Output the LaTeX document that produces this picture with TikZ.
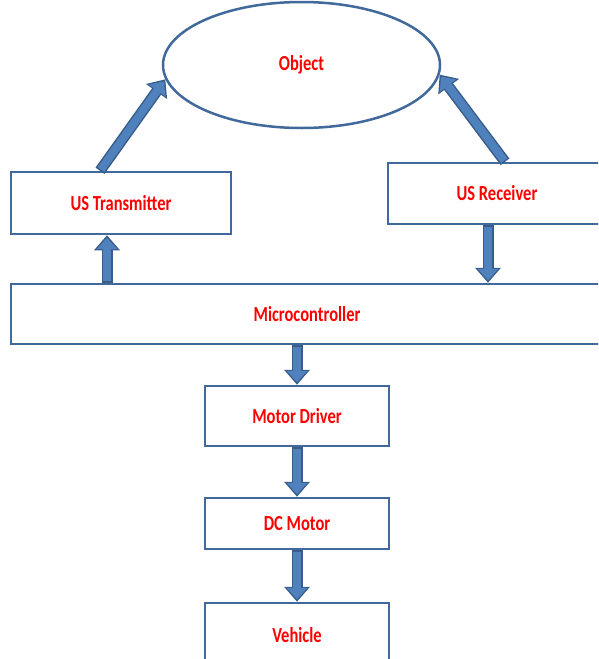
\documentclass[tikz,border=0pt]{standalone}
\usepackage{fontspec}
\setmainfont{Carlito}
\usetikzlibrary{arrows.meta,shapes.geometric}
\definecolor{boxline}{RGB}{65,105,155}
\definecolor{arrfill}{RGB}{79,129,189}
\definecolor{arrline}{RGB}{56,93,138}
\newcommand{\blabel}[1]{\scalebox{1}[1.3]{#1}}
\begin{document}
\begin{tikzpicture}[x=1pt,y=-1pt,
  blk/.style={draw=boxline,line width=2.5pt,fill=white,inner sep=0pt,
    font=\bfseries\fontsize{16.5}{20}\selectfont,text=red},
  fatarrow/.style={draw=arrline,line width=11pt,
    -{Triangle[width=25pt,length=15pt]},
    postaction={draw=arrfill,line width=8pt,shorten >=2.4pt,shorten <=1.5pt,
      -{Triangle[width=20pt,length=11.5pt]}}}]
  \useasboundingbox (0,0) rectangle (598,659);
  \clip (0,0) rectangle (598,659);
  % blocks
  \node[blk,ellipse,minimum width=277pt,minimum height=126pt] (obj) at (301.5,65) {\blabel{Object}};
  \node[blk,minimum width=220pt,minimum height=62pt] (tx) at (121,203) {\blabel{US Transmitter}};
  \node[blk,minimum width=218pt,minimum height=61pt] (rx) at (497,193.5) {\blabel{US Receiver}};
  \node[blk,minimum width=592pt,minimum height=60pt] (mcu) at (307,314) {\blabel{Microcontroller}};
  \node[blk,minimum width=184pt,minimum height=60pt] (drv) at (297,416) {\blabel{Motor Driver}};
  \node[blk,minimum width=184pt,minimum height=51pt] (dcm) at (297,523.5) {\blabel{DC Motor}};
  \node[blk,minimum width=184pt,minimum height=64pt] (veh) at (297,635) {\blabel{Vehicle}};
  % arrows
  \draw[fatarrow] ([xshift=-21pt]tx.north) -- (obj.186);
  \draw[fatarrow] ([xshift=8pt]rx.north) -- (obj.356);
  \draw[fatarrow] ([xshift=-14pt]tx.south |- mcu.north) -- ([xshift=-14pt]tx.south);
  \draw[fatarrow] ([xshift=-9pt]rx.south) -- ([xshift=-9pt]rx.south |- mcu.north);
  \draw[fatarrow] (mcu.south -| drv.north) -- (drv.north);
  \draw[fatarrow] (drv.south) -- (dcm.north);
  \draw[fatarrow] (dcm.south) -- (veh.north);
\end{tikzpicture}
\end{document}
